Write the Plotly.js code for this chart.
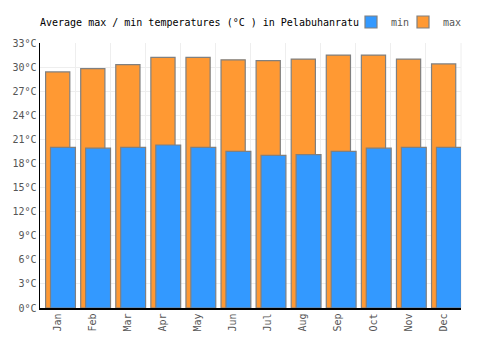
<!DOCTYPE html>
<html>
<head>
<meta charset="utf-8">
<script src="https://cdn.plot.ly/plotly-3.0.1.min.js"></script>
<style>html,body{margin:0;padding:0;background:#fff;}#chart{width:500px;height:350px;}</style>
</head>
<body>
<div id="chart"></div>
<script>
const months = ["Jan","Feb","Mar","Apr","May","Jun","Jul","Aug","Sep","Oct","Nov","Dec"];
const maxTemps = [29.4, 29.8, 30.3, 31.2, 31.2, 30.9, 30.8, 31.0, 31.5, 31.5, 31.0, 30.4];
const minTemps = [20.0, 19.9, 20.0, 20.3, 20.0, 19.5, 19.0, 19.1, 19.5, 19.9, 20.0, 20.0];
const yTicks = [0, 3, 6, 9, 12, 15, 18, 21, 24, 27, 30, 33];

const font = "DejaVu Sans Mono, Liberation Mono, monospace";

const traces = [
  {
    type: "bar", name: "max", x: months, y: maxTemps,
    width: 0.69, offset: -0.34,
    marker: {color: "#ff9933", line: {color: "#808080", width: 1.2}},
    legend: "legend2", hoverinfo: "y"
  },
  {
    type: "bar", name: "min", x: months, y: minTemps,
    width: 0.71, offset: -0.2,
    marker: {color: "#3399ff", line: {color: "#808080", width: 1.2}},
    legend: "legend", hoverinfo: "y"
  }
];

const legendBase = {
  orientation: "h", xanchor: "left", y: 1 + 21/265, yanchor: "middle",
  font: {family: font, size: 10, color: "#555"},
  itemwidth: 30, bgcolor: "rgba(0,0,0,0)"
};

const layout = {
  width: 500, height: 350,
  margin: {l: 40, r: 39, t: 43, b: 42, autoexpand: false},
  paper_bgcolor: "#fff", plot_bgcolor: "#fff",
  barmode: "overlay",
  font: {family: font, size: 10, color: "#555"},
  title: {
    text: "Average max / min temperatures (°C ) in Pelabuhanratu",
    font: {family: font, size: 10, color: "#000"},
    x: 0, xanchor: "left", xref: "paper", y: 1 - 22/350, yanchor: "middle", yref: "container"
  },
  showlegend: true,
  legend: Object.assign({}, legendBase, {x: (351 - 40) / 421}),
  legend2: Object.assign({}, legendBase, {x: (403 - 40) / 421}),
  xaxis: {
    type: "category", tickson: "boundaries",
    showgrid: true, gridcolor: "#eeeeee", gridwidth: 1,
    showline: true, linecolor: "#000", linewidth: 1.5,
    ticks: "", tickangle: -90,
    tickfont: {family: font, size: 10, color: "#555"},
    range: [-0.5, 11.5], fixedrange: true
  },
  yaxis: {
    range: [0, 33], tickvals: yTicks, ticktext: yTicks.map(v => v + "°C"),
    showgrid: true, gridcolor: "#eeeeee", gridwidth: 1,
    showline: true, linecolor: "#000", linewidth: 1.5,
    zeroline: false, ticks: "",
    tickfont: {family: font, size: 10, color: "#555"},
    fixedrange: true
  },
  shapes: [
    {type: "line", xref: "paper", yref: "paper", x0: 1, x1: 1, y0: 0, y1: 1, line: {color: "#eeeeee", width: 1}, layer: "below"}
  ]
};

Plotly.newPlot("chart", traces, layout, {displayModeBar: false, staticPlot: true});
</script>
</body>
</html>
